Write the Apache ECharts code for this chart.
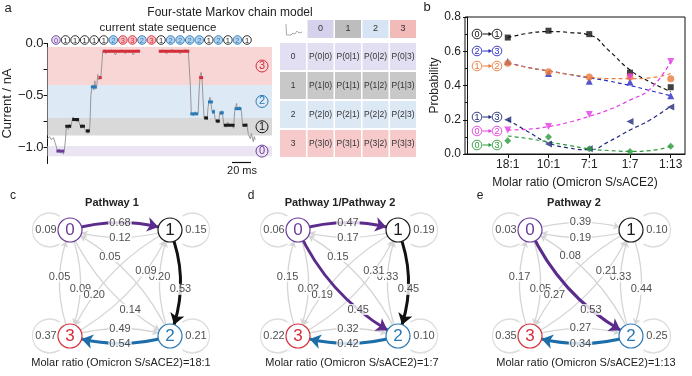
<!DOCTYPE html>
<html>
<head>
<meta charset="utf-8">
<script src="https://cdn.jsdelivr.net/npm/echarts@6.0.0/dist/echarts.min.js"></script>
<style>
  html, body { margin: 0; padding: 0; background: #fff; }
  #main { width: 692px; height: 376px; }
</style>
</head>
<body>
<div id="main"></div>
<script>
const FONT = '"Liberation Sans", Arial, sans-serif';

// ---- shared state colours (0,1,2,3)
const stateColor = ['#6b3d9b', '#1a1a1a', '#2a79b5', '#d42e3a'];
const stateFill = ['#e7dff2', '#ffffff', '#b7d3ee', '#f4bcc0'];

// ---- panel a: trace
const stateSeq = [0, 1, 1, 1, 1, 1, 2, 3, 3, 2, 3, 1, 2, 2, 2, 2, 1, 2, 1, 2, 1];
const bandState = [3, 2, 1, 0];
const bandTop = [-0.035, -0.40, -0.72, -0.99];
const bandBottom = [-0.40, -0.72, -0.89, -1.09];
const bandColor = ['#f8d6d6', '#dde9f5', '#d9d9d9', '#ebe5f3'];

// time (ms) and current (nA) of the raw trace, null = break at the 1.5 s gap
const traceT = [0, 2, 4, 6, 8, 9, 10, 12, 13, 15, 16, 17, 18, 19, 20, 21, 22, 23, 24, 25, 26, 27, 28, 30, 31, 32,
  33, 34, 35, 36, 37, 38, 39, 40, 41, 42, 43, 44, 45, 46, 47, 48, 49, 50, 51, 52, 53, 54, 55, 56, 58, 59, 61, 63,
  65, 67, 69, 71, 73, 75, 77, 79, 81, 83, 85, 87, 89, 91, 93, 94, 104, 113, 115, 117, 119, 121, 123, 125, 127, 129,
  131, 133, 135, 137, 139, 141, 143, 144, 145, 146, 148, 150, 152, 153, 154, 155, 156, 157, 158, 159, 161, 162, 163,
  164, 165, 166, 167, 168, 169, 170, 171, 172, 173, 174, 175, 176, 177, 178, 179, 181, 183, 185, 187, 189, 190, 191,
  192, 193, 195, 197, 198, 200, 202, 203, 204, 206, 207, 209, 210, 211];
const traceI = [-0.92, -0.90, -0.93, -0.91, -0.92, -1.00, -1.04, -1.02, -1.06, -1.03, -1.07, -1.03, -0.95, -0.82,
  -0.79, -0.83, -0.78, -0.81, -0.79, -0.74, -0.71, -0.75, -0.72, -0.76, -0.72, -0.76, -0.79, -0.82, -0.78, -0.81,
  -0.80, -0.83, -0.86, -0.83, -0.87, -0.84, -0.80, -0.50, -0.43, -0.40, -0.45, -0.36, -0.44, -0.41, -0.30, -0.35,
  -0.32, -0.34, -0.22, -0.08, -0.06, -0.10, -0.07, -0.09, -0.06, -0.08, -0.11, -0.07, -0.09, -0.06, -0.08, -0.10,
  -0.07, -0.09, -0.07, -0.11, -0.08, -0.06, -0.08, -0.07, null, -0.07, -0.09, -0.06, -0.08, -0.10, -0.07, -0.08,
  -0.06, -0.09, -0.07, -0.08, -0.10, -0.07, -0.08, -0.06, -0.08, -0.07, -0.40, -0.67, -0.70, -0.66, -0.69, -0.67,
  -0.45, -0.31, -0.28, -0.35, -0.55, -0.72, -0.70, -0.74, -0.62, -0.56, -0.52, -0.58, -0.65, -0.68, -0.64, -0.72,
  -0.76, -0.73, -0.77, -0.74, -0.66, -0.69, -0.65, -0.70, -0.78, -0.81, -0.76, -0.80, -0.78, -0.82, -0.66, -0.62,
  -0.58, -0.64, -0.61, -0.66, -0.78, -0.80, -0.77, -0.81, -0.88, -0.92, -0.87, -0.95, -0.90, -0.93];

// fitted levels: [start ms, end ms, current nA, state]
const levels = [
  [9, 17, -1.04, 0], [18, 24, -0.80, 1], [25, 32, -0.735, 1], [33, 38, -0.80, 1], [39, 43, -0.845, 1],
  [44, 50, -0.42, 2], [52, 55, -0.33, 3], [56, 94, -0.075, 3], [113, 144, -0.075, 3], [145, 153, -0.68, 2],
  [154, 158, -0.33, 3], [159, 163, -0.72, 1], [163, 168, -0.565, 2], [167, 170, -0.66, 2], [171, 175, -0.75, 1],
  [175, 179, -0.67, 2], [179, 190, -0.79, 1], [190, 197, -0.63, 2], [198, 203, -0.79, 1]
];

// ---- panel b: probabilities vs molar ratio
const ratioLabels = ['18:1', '10:1', '7:1', '1:7', '1:13'];
const ratioX = [1, 2, 3, 4, 5];
const transNames = ['0→1', '2→3', '1→2', '1→3', '0→2', '0→3'];
const transColor = ['#111111', '#2b2bc4', '#ea7a3a', '#1f2a7a', '#e33be3', '#2c9a3c'];
const transSymbol = ['rect', 'triangle', 'circle', 'triangle', 'triangle', 'diamond'];
const transRotate = [0, 0, 0, 90, 180, 0];
const prob01 = [0.68, 0.72, 0.70, 0.475, 0.39];
const prob23 = [0.54, 0.47, 0.425, 0.42, 0.34];
const prob12 = [0.53, 0.48, 0.45, 0.45, 0.44];
const prob13 = [0.20, 0.058, 0.03, 0.19, 0.275];
const prob02 = [0.14, 0.16, 0.23, 0.45, 0.54];
const prob03 = [0.078, 0.10, 0.03, 0.015, 0.045];
const fitX = [1, 1.5, 2, 2.5, 3, 3.5, 4, 4.5, 5];
const fit01 = [0.68, 0.705, 0.715, 0.71, 0.695, 0.60, 0.49, 0.42, 0.365];
const fit23 = [0.535, 0.505, 0.485, 0.465, 0.445, 0.425, 0.40, 0.37, 0.34];
const fit12 = [0.53, 0.505, 0.485, 0.465, 0.45, 0.44, 0.44, 0.445, 0.47];
const fit13 = [0.20, 0.13, 0.065, 0.035, 0.025, 0.075, 0.14, 0.20, 0.28];
const fit02 = [0.14, 0.145, 0.16, 0.185, 0.22, 0.26, 0.315, 0.38, 0.54];
const fit03 = [0.105, 0.09, 0.07, 0.05, 0.03, 0.02, 0.015, 0.02, 0.045];
const probs = [prob01, prob23, prob12, prob13, prob02, prob03];
const fits = [fit01, fit23, fit12, fit13, fit02, fit03];
const legendY = [34, 51, 66, 117, 131, 145];

// ---- panels c, d, e: transition matrices P[from][to]
const P_18_1 = [[0.09, 0.68, 0.14, 0.09], [0.12, 0.15, 0.53, 0.20], [0.05, 0.20, 0.21, 0.54], [0.05, 0.09, 0.49, 0.37]];
const P_1_7 = [[0.06, 0.47, 0.45, 0.02], [0.17, 0.19, 0.45, 0.19], [0.15, 0.33, 0.10, 0.42], [0.15, 0.31, 0.32, 0.22]];
const P_1_13 = [[0.03, 0.39, 0.53, 0.05], [0.19, 0.10, 0.44, 0.27], [0.08, 0.33, 0.25, 0.34], [0.17, 0.21, 0.27, 0.35]];
const bold_18_1 = [[0, 1], [1, 2], [2, 3]];
const bold_1_7 = [[0, 1], [0, 2], [1, 2], [2, 3]];
const bold_1_13 = [[0, 2], [2, 3]];
const boldColor = ['#5b2c8c', '#111111', '#1d6ea8'];
const nodeXY = [[0, 1], [1, 1], [1, 0], [0, 0]];

const panelGrids = [
  { left: 70, top: 230, width: 100, height: 106 },
  { left: 298, top: 230, width: 100, height: 106 },
  { left: 530, top: 230, width: 101, height: 106 }
];
const panelDefs = [
  { P: P_18_1, bold: bold_18_1, title: 'Pathway 1', titleX: 112, letter: 'c', letterX: 13, note: 'Molar ratio (Omicron S/sACE2)=18:1', noteX: 121 },
  { P: P_1_7, bold: bold_1_7, title: 'Pathway 1/Pathway 2', titleX: 340, letter: 'd', letterX: 251, note: 'Molar ratio (Omicron S/sACE2)=1:7', noteX: 352 },
  { P: P_1_13, bold: bold_1_13, title: 'Pathway 2', titleX: 574, letter: 'e', letterX: 480, note: 'Molar ratio (Omicron S/sACE2)=1:13', noteX: 586 }
];

function edgeKind(i, j) {
  const a = Math.min(i, j), b = Math.max(i, j);
  if ((a === 0 && b === 2) || (a === 1 && b === 3)) return 'diag';
  if ((a === 0 && b === 1) || (a === 2 && b === 3)) return 'horiz';
  return 'vert';
}
const curvenessByKind = { diag: -0.17, horiz: 0.15, vert: 0.2 };
const labelTByKind = { diag: 0.68, horiz: 0.5, vert: 0.56 };

// point on the same quadratic curve the graph series draws
function edgeLabelPoint(g, i, j) {
  const kind = edgeKind(i, j);
  const c = curvenessByKind[kind], t = labelTByKind[kind];
  const px = n => [g.left + nodeXY[n][0] * g.width, g.top + (1 - nodeXY[n][1]) * g.height];
  const p1 = px(i), p2 = px(j);
  const cp = [(p1[0] + p2[0]) / 2 - (p1[1] - p2[1]) * c, (p1[1] + p2[1]) / 2 - (p2[0] - p1[0]) * c];
  const u = 1 - t;
  const x = u * u * p1[0] + 2 * u * t * cp[0] + t * t * p2[0];
  const y = u * u * p1[1] + 2 * u * t * cp[1] + t * t * p2[1];
  return [(x - g.left) / g.width, 1 - (y - g.top) / g.height];
}

const loopLeft = 'path://M30,6 A17,17 0 1 0 30,34';
const loopRight = 'path://M4,6 A17,17 0 1 1 4,34';

// ---------------- series
const series = [];

series.push({
  type: 'line',
  xAxisIndex: 0, yAxisIndex: 0,
  data: traceT.map((t, i) => [t, traceI[i] === null ? '-' : traceI[i]]),
  showSymbol: false,
  connectNulls: false,
  lineStyle: { color: '#8e8e8e', width: 0.9 },
  silent: true,
  z: 3,
  markArea: {
    silent: true,
    data: bandState.map((s, k) => [
      {
        yAxis: bandTop[k],
        itemStyle: { color: bandColor[k] },
        label: {
          show: true, position: 'insideRight', distance: 4,
          formatter: '{c|' + s + '}',
          rich: { c: { width: 12, height: 12, lineHeight: 12, borderRadius: 7, borderWidth: 1, borderColor: stateColor[s], color: stateColor[s], align: 'center', fontSize: 11 } }
        }
      },
      { yAxis: bandBottom[k] }
    ])
  }
});

series.push({
  type: 'custom',
  xAxisIndex: 0, yAxisIndex: 0,
  data: levels,
  encode: { x: [0, 1], y: 2 },
  silent: true,
  z: 4,
  renderItem: (params, api) => {
    const a = api.coord([api.value(0), api.value(2)]);
    const b = api.coord([api.value(1), api.value(2)]);
    return {
      type: 'line',
      shape: { x1: a[0], y1: a[1], x2: b[0], y2: b[1] },
      style: { stroke: stateColor[api.value(3)], lineWidth: 3 }
    };
  }
});

transNames.forEach((name, k) => {
  series.push({
    name: name + ' fit',
    type: 'line',
    xAxisIndex: 1, yAxisIndex: 1,
    data: fitX.map((x, i) => [x, fits[k][i]]),
    smooth: true,
    showSymbol: false,
    silent: true,
    lineStyle: { color: transColor[k], width: 1.2, type: [4, 3] },
    z: 2
  });
});
transNames.forEach((name, k) => {
  series.push({
    name: name,
    type: 'scatter',
    xAxisIndex: 1, yAxisIndex: 1,
    data: ratioX.map((x, i) => [x, probs[k][i]]),
    symbol: transSymbol[k],
    symbolRotate: transRotate[k],
    symbolSize: transSymbol[k] === 'rect' ? 6 : 7,
    itemStyle: { color: transColor[k] },
    silent: true,
    z: 4
  });
});

panelDefs.forEach((pd, k) => {
  const g = panelGrids[k];
  const ax = 2 + k;
  const nodes = nodeXY.map((xy, i) => ({
    name: String(i),
    value: xy,
    itemStyle: { color: '#fff', borderColor: stateColor[i], borderWidth: 1.2 },
    label: { color: stateColor[i] }
  }));
  const light = [], heavy = [], labels = [], loops = [];
  for (let i = 0; i < 4; i++) {
    for (let j = 0; j < 4; j++) {
      if (i === j) continue;
      const isBold = pd.bold.some(b => b[0] === i && b[1] === j);
      const c = curvenessByKind[edgeKind(i, j)];
      const link = {
        source: i, target: j, value: pd.P[i][j],
        lineStyle: isBold ? { color: boldColor[i], width: 3, curveness: c, opacity: 1 } : { color: '#d5d5d5', width: 1.3, curveness: c, opacity: 1 },
        symbolSize: isBold ? [0, 11] : [0, 6]
      };
      (isBold ? heavy : light).push(link);
      const pt = edgeLabelPoint(g, i, j);
      labels.push([pt[0], pt[1], pd.P[i][j]]);
    }
    const leftSide = (i === 0 || i === 3);
    loops.push({
      value: [nodeXY[i][0], nodeXY[i][1], pd.P[i][i]],
      symbol: leftSide ? loopLeft : loopRight,
      symbolOffset: [leftSide ? -24 : 26, 0]
    });
  }
  series.push({
    type: 'scatter',
    xAxisIndex: ax, yAxisIndex: ax,
    data: loops,
    clip: false,
    symbolSize: [27, 34],
    symbolKeepAspect: false,
    itemStyle: { color: 'rgba(0,0,0,0)', borderColor: '#d5d5d5', borderWidth: 1.3 },
    label: { show: true, position: 'inside', formatter: p => p.value[2].toFixed(2), color: '#222', fontSize: 11 },
    silent: true,
    z: 2
  });
  series.push({
    type: 'graph',
    coordinateSystem: 'cartesian2d',
    xAxisIndex: ax, yAxisIndex: ax,
    layout: 'none',
    symbol: 'circle',
    symbolSize: 24,
    edgeSymbol: ['none', 'arrow'],
    edgeSymbolSize: [0, 6],
    data: nodes,
    links: light.concat(heavy),
    label: { show: true, position: 'inside', formatter: '{b}', fontSize: 17 },
    lineStyle: { opacity: 1 },
    silent: true,
    z: 3
  });
  series.push({
    type: 'scatter',
    xAxisIndex: ax, yAxisIndex: ax,
    data: labels,
    clip: false,
    symbolSize: 1,
    itemStyle: { color: 'rgba(0,0,0,0)' },
    label: {
      show: true, position: 'inside', formatter: p => p.value[2].toFixed(2),
      color: '#222', fontSize: 11, backgroundColor: '#fff', padding: [0, 1]
    },
    labelLayout: { hideOverlap: false },
    silent: true,
    z: 6
  });
});

// ---------------- graphic (titles, table, legend, annotations)
const gfx = [];
function txt(x, y, text, size, opts) {
  gfx.push({ type: 'text', x, y, silent: true, style: Object.assign({ text, fontSize: size, fill: '#222', fontFamily: FONT, align: 'center', verticalAlign: 'middle' }, opts || {}) });
}
function circled(cx, cy, r, digit, color, fill, size) {
  gfx.push({ type: 'circle', silent: true, shape: { cx, cy, r }, style: { fill, stroke: color, lineWidth: 0.9 } });
  txt(cx, cy + 0.5, String(digit), size, { fill: color });
}

txt(8, 8, 'a', 13);
txt(427, 7, 'b', 13);
txt(230, 13, 'Four-state Markov chain model', 12);
txt(158, 27.5, 'current state sequence', 11.5);
stateSeq.forEach((s, i) => circled(56 + i * 9.55, 40, 4.3, s, stateColor[s], stateFill[s], 7.5));
txt(148, 53, 'ʃʃ', 10, { fill: '#444' });
txt(148.5, 63.5, '1.5 s', 9.5);
gfx.push({ type: 'line', silent: true, shape: { x1: 232, y1: 162.5, x2: 251, y2: 162.5 }, style: { stroke: '#111', lineWidth: 1.2 } });
txt(242, 170.5, '20 ms', 11);

// transition table
const tblX = [280, 307.5, 335, 362.5, 390];
const tblCellW = 26;
const headColor = ['#d7d2ec', '#bdbdbd', '#d6e4f4', '#f3baba'];
const cellColor = ['#e3dff2', '#c8c8c8', '#dde8f5', '#f6caca'];
gfx.push({ type: 'rect', silent: true, shape: { x: tblX[0], y: 20, width: tblCellW, height: 18 }, style: { fill: '#fff' } });
gfx.push({ type: 'polyline', silent: true, shape: { points: [[286, 24], [286.5, 35], [291, 35], [293, 33], [295, 34], [297, 31], [299, 33], [302, 32]] }, style: { stroke: '#aaa', lineWidth: 1, fill: null } });
for (let c = 0; c < 4; c++) {
  gfx.push({ type: 'rect', silent: true, shape: { x: tblX[c + 1], y: 20, width: tblCellW, height: 18 }, style: { fill: headColor[c] } });
  txt(tblX[c + 1] + tblCellW / 2, 29, String(c), 9, { fill: '#333' });
}
for (let r = 0; r < 4; r++) {
  const y0 = 43 + r * 29;
  for (let c = 0; c < 5; c++) {
    gfx.push({ type: 'rect', silent: true, shape: { x: tblX[c], y: y0, width: tblCellW, height: 27 }, style: { fill: cellColor[r] } });
    txt(tblX[c] + tblCellW / 2, y0 + 13.5, c === 0 ? String(r) : 'P(' + r + '|' + (c - 1) + ')', 8.5, { fill: '#333' });
  }
}

// legend of panel b
transNames.forEach((name, k) => {
  const y = legendY[k];
  const col = transColor[k];
  const a = name.charAt(0), b = name.charAt(2);
  circled(477, y, 4.8, a, col, '#fff', 9);
  gfx.push({ type: 'line', silent: true, shape: { x1: 482.5, y1: y, x2: 490, y2: y }, style: { stroke: col, lineWidth: 1 } });
  gfx.push({ type: 'polygon', silent: true, shape: { points: [[492, y], [488.5, y - 2], [488.5, y + 2]] }, style: { fill: col } });
  circled(497, y, 4.8, b, col, '#fff', 9);
});

// titles of c, d, e
panelDefs.forEach(pd => {
  txt(pd.letterX, 196, pd.letter, 12);
  txt(pd.titleX, 203, pd.title, 11, { fontWeight: 'bold' });
  txt(pd.noteX, 363, pd.note, 11);
});

// ---------------- axes
const hiddenX = k => ({ gridIndex: k, type: 'value', min: 0, max: 1, show: false });
const hiddenY = k => ({ gridIndex: k, type: 'value', min: 0, max: 1, show: false });

const option = {
  animation: false,
  textStyle: { fontFamily: FONT },
  grid: [
    { left: 44, top: 43.5, width: 228, height: 120 },
    { left: 465, top: 17, width: 220, height: 137, show: true, borderColor: '#111', borderWidth: 1 },
    panelGrids[0], panelGrids[1], panelGrids[2]
  ],
  xAxis: [
    { gridIndex: 0, type: 'value', min: 0, max: 228, show: false },
    {
      gridIndex: 1, type: 'value', min: -0.05, max: 5.35,
      axisLine: { show: true, lineStyle: { color: '#111' } },
      axisTick: { show: true, customValues: ratioX, length: 4, lineStyle: { color: '#111' } },
      axisLabel: { customValues: ratioX, formatter: v => ratioLabels[Math.round(v) - 1], fontSize: 12, color: '#222', margin: 5 },
      splitLine: { show: false },
      name: 'Molar ratio (Omicron S/sACE2)', nameLocation: 'middle', nameGap: 23,
      nameTextStyle: { fontSize: 12, color: '#222' }
    },
    hiddenX(2), hiddenX(3), hiddenX(4)
  ],
  yAxis: [
    {
      gridIndex: 0, type: 'value', min: -1.16, max: 0,
      axisLine: { show: true, lineStyle: { color: '#111' } },
      axisTick: { show: true, customValues: [-1, -0.75, -0.5, -0.25, 0], length: 4, lineStyle: { color: '#111' } },
      axisLabel: { customValues: [-1, -0.5, 0], formatter: v => (v < 0 ? '−' : '') + Math.abs(v).toFixed(1), fontSize: 13, color: '#222', margin: 4 },
      splitLine: { show: false },
      name: 'Current / nA', nameLocation: 'middle', nameGap: 20,
      nameTextStyle: { fontSize: 13, color: '#222' }
    },
    {
      gridIndex: 1, type: 'value', min: 0, max: 0.8, interval: 0.2,
      axisLine: { show: true, lineStyle: { color: '#111' } },
      axisTick: { show: true, length: 4, lineStyle: { color: '#111' } },
      minorTick: { show: true, splitNumber: 2, length: 2, lineStyle: { color: '#111' } },
      axisLabel: { formatter: v => v.toFixed(1), fontSize: 12, color: '#222', margin: 4 },
      splitLine: { show: false },
      name: 'Probability', nameLocation: 'middle', nameGap: 22,
      nameTextStyle: { fontSize: 12, color: '#222' }
    },
    hiddenY(2), hiddenY(3), hiddenY(4)
  ],
  series: series,
  graphic: { elements: gfx }
};

const chart = echarts.init(document.getElementById('main'));
chart.setOption(option);
</script>
</body>
</html>
